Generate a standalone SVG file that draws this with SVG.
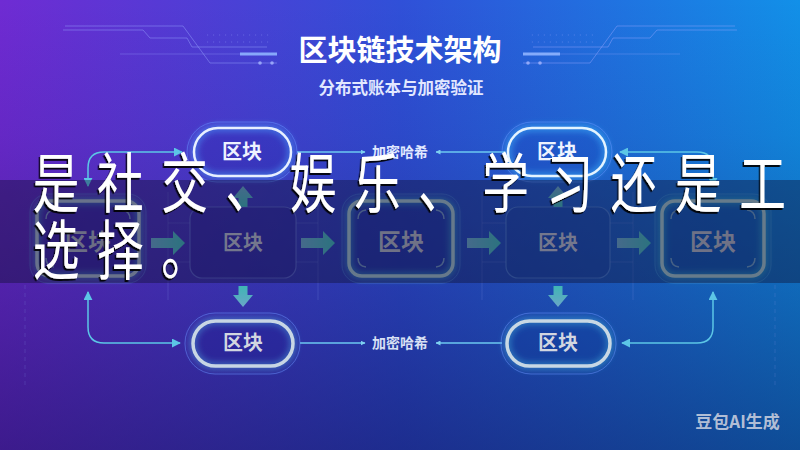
<svg xmlns="http://www.w3.org/2000/svg" width="800" height="450" viewBox="0 0 800 450">
<defs>
<linearGradient id="bgH" x1="0" y1="0" x2="1" y2="0">
<stop offset="0" stop-color="#6f2bd3"/>
<stop offset="0.5" stop-color="#3050d8"/>
<stop offset="1" stop-color="#1290e8"/>
</linearGradient>
<linearGradient id="bgV" x1="0" y1="0" x2="0" y2="1">
<stop offset="0" stop-color="#0a0a46" stop-opacity="0"/>
<stop offset="0.3" stop-color="#0a0a46" stop-opacity="0.1"/>
<stop offset="1" stop-color="#0a0a46" stop-opacity="0.5"/>
</linearGradient>
<linearGradient id="arrowG" x1="0" y1="0" x2="1" y2="0">
<stop offset="0" stop-color="#6aa6c8"/>
<stop offset="1" stop-color="#3fb6b4"/>
</linearGradient>
<linearGradient id="arrowGV" x1="0" y1="0" x2="0" y2="1">
<stop offset="0" stop-color="#6aa6c8"/>
<stop offset="1" stop-color="#3fb6b4"/>
</linearGradient>
<filter id="blur" x="-30%" y="-50%" width="160%" height="200%">
<feGaussianBlur stdDeviation="3"/>
</filter>
<filter id="shadow" x="-10%" y="-10%" width="120%" height="130%">
<feDropShadow dx="-2" dy="2" stdDeviation="0.6" flood-color="#000" flood-opacity="0.9"/>
</filter>
<marker id="ah" viewBox="0 0 10 10" refX="9" refY="5" markerWidth="9" markerHeight="9" markerUnits="userSpaceOnUse" orient="auto-start-reverse">
<path d="M0,0 L10,5 L0,10 Z" fill="#5cc6e6"/>
</marker>
<marker id="ahs" viewBox="0 0 10 10" refX="9" refY="5" markerWidth="5" markerHeight="5" markerUnits="userSpaceOnUse" orient="auto-start-reverse">
<path d="M0,0 L10,5 L0,10 Z" fill="#7fd0f0"/>
</marker>
<path id="harrow" d="M0,-5 H22 V-12 L34,0 L22,12 V5 H0 Z"/>
<path id="varrow" d="M-4.5,0 V-9 H-10 L0,-21 L10,-9 H4.5 V0 Z"/>
<g id="deco">
<path d="M65,26 H183 L210,63 H277" fill="none" stroke="#9aa6ff" stroke-opacity="0.45" stroke-width="1"/>
<path d="M63,30 H143 L150,38 H187 L192,47 H267" fill="none" stroke="#9aa6ff" stroke-opacity="0.45" stroke-width="1"/>
<path d="M120,54 H240" fill="none" stroke="#9aa6ff" stroke-opacity="0.3" stroke-width="1"/>
<path d="M240,54 H277" fill="none" stroke="#8fb4ff" stroke-opacity="0.9" stroke-width="3"/>
<circle cx="260" cy="63" r="1.8" fill="#a8b8ff" fill-opacity="0.8"/>
<circle cx="272" cy="63" r="1.8" fill="#a8b8ff" fill-opacity="0.8"/>
<path d="M207,35 H270 M207,42 H270" fill="none" stroke="#9aa6ff" stroke-opacity="0.35" stroke-width="1.2" stroke-dasharray="1.2 4.8"/>
</g>
</defs>
<style>
.nt { font-family: "Noto Sans CJK SC", "Noto Sans", sans-serif; font-weight: 700; text-anchor: middle; }
.conn { fill: none; stroke: #5cc6e6; stroke-width: 1.5; }
.lconn { fill: none; stroke: #6cc8f0; stroke-width: 1.3; }
.ring { fill: none; stroke: #6a90ff; stroke-opacity: 0.5; stroke-width: 1; }
.halo { fill: none; stroke-width: 7; stroke-opacity: 0.55; }
.grid { fill: none; stroke: #8090e8; stroke-opacity: 0.22; stroke-width: 1; }
.ba { fill: url(#arrowG); }
.bav { fill: url(#arrowGV); }
.corner { fill: none; stroke: #8fb4c4; stroke-width: 1.5; stroke-opacity: 0.7; }
</style>

<rect width="800" height="450" fill="url(#bgH)"/>
<rect width="800" height="450" fill="url(#bgV)"/>

<g id="title-deco">
<use href="#deco"/>
<use href="#deco" transform="translate(800,0) scale(-1,1)"/>
</g>

<g id="title">
<text x="400" y="61" class="nt" font-size="29" fill="#ffffff">区块链技术架构</text>
<text x="401" y="94" class="nt" font-size="16.5" font-weight="400" fill="#e2e8ff">分布式账本与加密验证</text>
</g>

<g id="grid-lines">
<path class="grid" d="M168,192 V300 M318,192 V300 M482,192 V300 M633,192 V300 M168,223 H190 M296,223 H318 M482,223 H506 M610,223 H633 M168,262 H190 M296,262 H318 M482,262 H506 M610,262 H633"/>
<path class="grid" stroke-dasharray="4 4" d="M25,285 V385 M775,285 V385"/>
</g>

<g id="connectors">
<path class="conn" d="M88,186 V168 Q88,152 104,152 H182" marker-start="url(#ah)" marker-end="url(#ah)"/>
<path class="conn" d="M88,292 V327 Q88,343 104,343 H180" marker-start="url(#ah)" marker-end="url(#ah)"/>
<path class="conn" d="M713,186 V168 Q713,152 697,152 H620" marker-start="url(#ah)" marker-end="url(#ah)"/>
<path class="conn" d="M713,292 V327 Q713,343 697,343 H622" marker-start="url(#ah)" marker-end="url(#ah)"/>
<path class="lconn" d="M297,152 H365" marker-end="url(#ahs)"/>
<path class="lconn" d="M505,152 H436" marker-end="url(#ahs)"/>
<path class="lconn" d="M300,343 H365" marker-end="url(#ahs)"/>
<path class="lconn" d="M502,343 H436" marker-end="url(#ahs)"/>
<use href="#harrow" class="ba" transform="translate(151,243)"/>
<use href="#harrow" class="ba" transform="translate(301,243)"/>
<use href="#harrow" class="ba" transform="translate(467,243)"/>
<use href="#harrow" class="ba" transform="translate(617,243)"/>
<use href="#varrow" class="bav" transform="translate(243,207)"/>
<use href="#varrow" class="bav" transform="translate(558,207)"/>
<use href="#varrow" class="bav" transform="translate(243,286) scale(1,-1)"/>
<use href="#varrow" class="bav" transform="translate(558,286) scale(1,-1)"/>
</g>

<g id="label-top">
<text x="400" y="157" class="nt" font-size="14" font-weight="400" fill="#e0e8ff">加密哈希</text>
</g>
<g id="label-bottom">
<text x="400" y="348" class="nt" font-size="14" font-weight="400" fill="#d8e0f4">加密哈希</text>
</g>

<g id="node-top-a">
<rect class="ring" x="187" y="122" width="110" height="60" rx="30"/>
<rect x="194" y="128" width="97" height="48" rx="24" fill="#2a2ab0" fill-opacity="0.3"/>
<rect class="halo" x="194" y="128" width="97" height="48" rx="24" stroke="#4aa0ff" filter="url(#blur)"/>
<rect x="194" y="128" width="97" height="48" rx="24" fill="none" stroke="#e8f0ff" stroke-width="2.5"/>
<text x="242" y="159" class="nt" font-size="20" fill="#eef2ff">区块</text>
</g>

<g id="node-top-b">
<rect class="ring" x="502" y="122" width="110" height="60" rx="30" stroke="#5ab0ff"/>
<rect x="508" y="128" width="98" height="48" rx="24" fill="#1a4ac0" fill-opacity="0.3"/>
<rect class="halo" x="508" y="128" width="98" height="48" rx="24" stroke="#40b8ff" filter="url(#blur)"/>
<rect x="508" y="128" width="98" height="48" rx="24" fill="none" stroke="#e4f4ff" stroke-width="2.5"/>
<text x="557" y="159" class="nt" font-size="20" fill="#eef4ff">区块</text>
</g>

<g id="node-left">
<rect x="30" y="194" width="116" height="89" rx="18" fill="none" stroke="#5a80d8" stroke-opacity="0.45" stroke-width="1"/>
<rect x="37" y="201" width="102" height="75" rx="13" fill="#1e1c8a" fill-opacity="0.35"/>
<rect class="halo" x="37" y="201" width="102" height="75" rx="13" stroke="#48a8c8" filter="url(#blur)"/>
<rect x="37" y="201" width="102" height="75" rx="13" fill="none" stroke="#a4b4c8" stroke-width="3.5"/>
<path class="corner" d="M46,219 Q46,211 54,210 M130,219 Q130,211 122,210 M46,258 Q46,266 54,267 M130,258 Q130,266 122,267"/>
<text x="88" y="250" class="nt" font-size="23" fill="#a8acbc">区块</text>
</g>

<g id="node-mid-1">
<rect x="190" y="207" width="106" height="71" rx="12" fill="#241c8c" fill-opacity="0.3" stroke="#6f7fd8" stroke-opacity="0.55" stroke-width="1.2"/>
<text x="243" y="250" class="nt" font-size="20" fill="#b8bccb">区块</text>
</g>

<g id="node-center">
<rect x="342" y="194" width="118" height="89" rx="18" fill="none" stroke="#4f88d8" stroke-opacity="0.45" stroke-width="1"/>
<rect x="349" y="201" width="104" height="75" rx="13" fill="#1a2690" fill-opacity="0.35"/>
<rect class="halo" x="349" y="201" width="104" height="75" rx="13" stroke="#40b0c8" filter="url(#blur)"/>
<rect x="349" y="201" width="104" height="75" rx="13" fill="none" stroke="#a0c0c8" stroke-width="3.5"/>
<path class="corner" d="M358,219 Q358,211 366,210 M444,219 Q444,211 436,210 M358,258 Q358,266 366,267 M444,258 Q444,266 436,267"/>
<text x="401" y="250" class="nt" font-size="23" fill="#b0b4c0">区块</text>
</g>

<g id="node-mid-2">
<rect x="506" y="207" width="104" height="71" rx="12" fill="#1840a0" fill-opacity="0.3" stroke="#5f8fd8" stroke-opacity="0.55" stroke-width="1.2"/>
<text x="558" y="250" class="nt" font-size="20" fill="#b8bccb">区块</text>
</g>

<g id="node-right">
<rect x="655" y="194" width="116" height="89" rx="18" fill="none" stroke="#4a98d8" stroke-opacity="0.45" stroke-width="1"/>
<rect x="662" y="201" width="102" height="75" rx="13" fill="#0f3c98" fill-opacity="0.35"/>
<rect class="halo" x="662" y="201" width="102" height="75" rx="13" stroke="#38b4c8" filter="url(#blur)"/>
<rect x="662" y="201" width="102" height="75" rx="13" fill="none" stroke="#a0c4c8" stroke-width="3.5"/>
<path class="corner" d="M671,219 Q671,211 679,210 M755,219 Q755,211 747,210 M671,258 Q671,266 679,267 M755,258 Q755,266 747,267"/>
<text x="713" y="250" class="nt" font-size="23" fill="#b0b4c0">区块</text>
</g>

<g id="node-bottom-c">
<rect class="ring" x="185" y="313" width="115" height="61" rx="30" stroke="#5a7fe0"/>
<rect x="193" y="321" width="100" height="45" rx="22.5" fill="#201c90" fill-opacity="0.35"/>
<rect class="halo" x="193" y="321" width="100" height="45" rx="22.5" stroke="#4a9ad8" filter="url(#blur)"/>
<rect x="193" y="321" width="100" height="45" rx="22.5" fill="none" stroke="#c8d6e4" stroke-width="3.5"/>
<text x="243" y="350" class="nt" font-size="20" fill="#d2d6e0">区块</text>
</g>

<g id="node-bottom-d">
<rect class="ring" x="501" y="313" width="115" height="61" rx="30" stroke="#4f9ae0"/>
<rect x="507" y="321" width="103" height="45" rx="22.5" fill="#0f3a98" fill-opacity="0.35"/>
<rect class="halo" x="507" y="321" width="103" height="45" rx="22.5" stroke="#40a8d8" filter="url(#blur)"/>
<rect x="507" y="321" width="103" height="45" rx="22.5" fill="none" stroke="#c8d8e4" stroke-width="3.5"/>
<text x="558" y="350" class="nt" font-size="20" fill="#d2d6e0">区块</text>
</g>

<g id="watermark">
<text x="737.5" y="428" class="nt" font-size="17" fill="#c8cede" fill-opacity="0.9">豆包AI生成</text>
</g>

<rect id="caption-band" x="0" y="180" width="800" height="103" fill="#0f0f30" fill-opacity="0.4"/>

<g id="caption" transform="translate(35,0) scale(0.72,1)" filter="url(#shadow)">
<text x="-3" y="207" font-family="Noto Sans CJK SC, Noto Sans CJK JP, sans-serif" font-size="65" font-weight="400" letter-spacing="24.2" fill="#ffffff">是社交、娱乐、学习还是工</text>
<text x="-3" y="274" font-family="Noto Sans CJK SC, Noto Sans CJK JP, sans-serif" font-size="65" font-weight="400" letter-spacing="24.2" fill="#ffffff">选择。</text>
</g>
</svg>
